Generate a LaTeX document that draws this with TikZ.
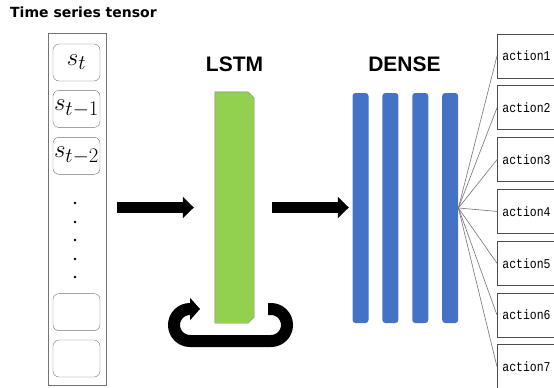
\documentclass[tikz,border=0pt]{standalone}
\usepackage{amsmath}
\usepackage{fontspec}
\usetikzlibrary{positioning,arrows.meta,calc}
\newfontfamily\titlefont{DejaVu Sans}
\newfontfamily\headfont{Liberation Sans}
\newfontfamily\actfont[FakeStretch=0.85]{Liberation Mono}
\definecolor{lstmgreen}{HTML}{92D050}
\definecolor{denseblue}{HTML}{4472C4}
\tikzset{
  cell/.style={draw=black!55, rounded corners=6pt, minimum width=47pt, minimum height=37pt, inner sep=0pt, font=\fontsize{24.88}{25}\selectfont},
  headlabel/.style={inner sep=0pt, font=\headfont\bfseries\fontsize{21}{21}\selectfont},
  densebar/.style={fill=denseblue, rounded corners=3pt, minimum width=16pt, minimum height=230pt, inner sep=0pt},
  actbox/.style={draw=black!70, line width=0.8pt, anchor=west, text width=72pt, inner xsep=5pt, minimum height=44pt, font=\actfont\fontsize{13.5}{13.5}\selectfont},
  flow/.style={line width=11pt, -{Triangle[width=21pt,length=11pt]}},
}

\begin{document}
\begin{tikzpicture}[x=1pt, y=-1pt, node distance=7pt]
  \useasboundingbox (0,0) rectangle (554,388);
  \clip (0,0) rectangle (554,388);
  \node[anchor=base west, inner sep=0pt, font=\titlefont\bfseries\fontsize{14}{14}\selectfont] (title) at (10,17) {Time series tensor};

  % input tensor
  \node[draw=black!55, line width=0.8pt, minimum width=58pt, minimum height=352pt, inner sep=0pt] (tensor) at (77,209) {};
  \node[cell] (s0) at (76.5,62.5) {$s_t$};
  \node[cell] (s1) [below=9pt of s0] {$s_{t-1}$};
  \node[cell] (s2) [below=9.5pt of s1] {$s_{t-2}$};
  \node[cell] (sn) at (76.5,358.5) {};
  \node[cell] (sm) [above=9pt of sn] {};
  \fill (75,203) circle (1.3pt) (75,222) circle (1.3pt) (75,240) circle (1.3pt)
        (75,259) circle (1.3pt) (75,277) circle (1.3pt);

  % lstm
  \node[minimum width=39pt, minimum height=231pt, inner sep=0pt] (lstm) at (234.5,207.5) {};
  \filldraw[fill=lstmgreen, draw=black!50] (lstm.north west) -- ($(lstm.north east)+(-6,0)$)
    -- ($(lstm.north east)+(0,6)$) -- ($(lstm.south east)+(0,-6)$)
    -- ($(lstm.south east)+(-6,0)$) -- (lstm.south west) -- cycle;
  \node[headlabel] (lstmlabel) [above=20pt of lstm] {LSTM};
  \coordinate (loopout) at (268,309);
  \coordinate (loopin) at (200,309);
  \draw[line width=12pt, rounded corners=16pt, -{Triangle[width=22pt,length=10pt]}]
    (loopout) -| (287,341) -| (174,309) -- (loopin);

  % dense
  \node[densebar] (d1) at (360.5,208) {};
  \node[densebar] (d2) [right=13.5pt of d1] {};
  \node[densebar] (d3) [right=13.5pt of d2] {};
  \node[densebar] (d4) [right=13.5pt of d3] {};
  \node[headlabel] (denselabel) at (404.5,64) {DENSE};

  \draw[flow, shorten <=11pt, shorten >=21pt] (tensor.east |- lstm.west) -- (lstm.west);
  \draw[flow, shorten <=18pt, shorten >=3.5pt] (lstm.east) -- (lstm.east -| d1.west);

  % outputs
  \node[actbox] (a1) at (497,56) {action1};
  \node[actbox] (a2) [below=of a1] {action2};
  \node[actbox] (a3) [below=of a2] {action3};
  \node[actbox] (a4) [below=of a3] {action4};
  \node[actbox] (a5) [below=of a4] {action5};
  \node[actbox] (a6) [below=of a5] {action6};
  \node[actbox] (a7) [below=of a6] {action7};
  \path[draw=black!55, line width=0.6pt]
    (d4.east) edge (a1.west) (d4.east) edge (a2.west) (d4.east) edge (a3.west)
    (d4.east) edge (a4.west) (d4.east) edge (a5.west) (d4.east) edge (a6.west)
    (d4.east) edge (a7.west);
\end{tikzpicture}
\end{document}
